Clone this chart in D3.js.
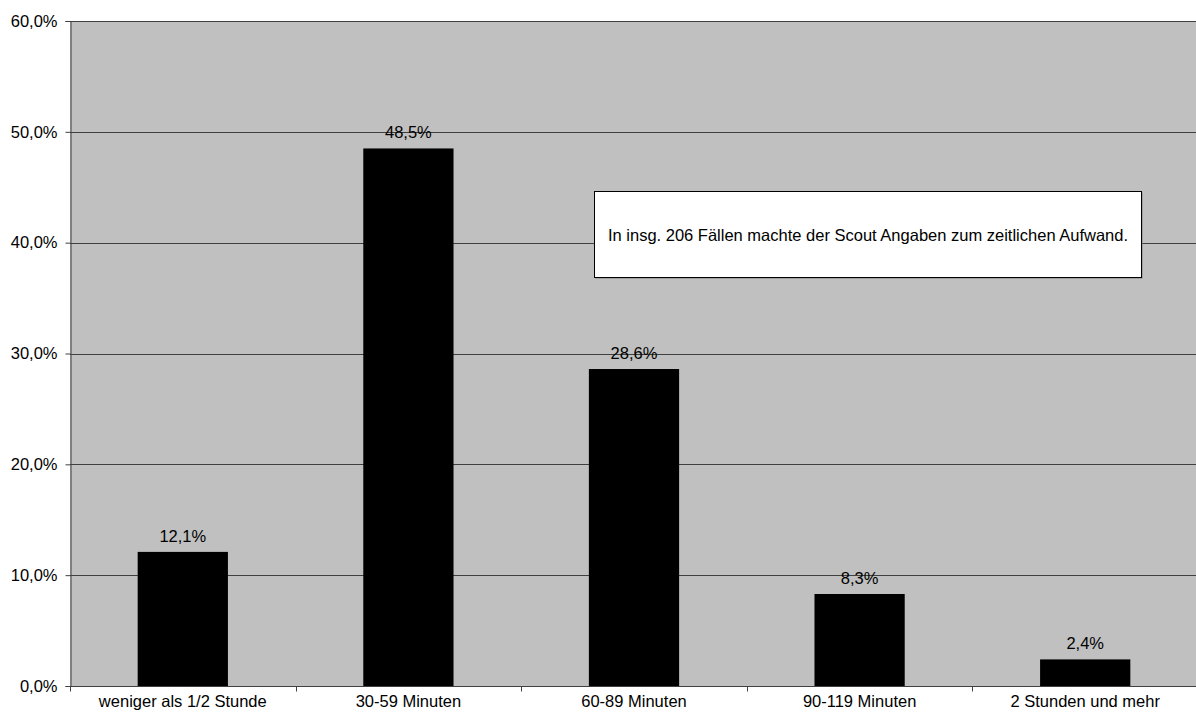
<!DOCTYPE html>
<html><head><meta charset="utf-8">
<script src="https://cdn.jsdelivr.net/npm/d3@7"></script>
<style>html,body{margin:0;padding:0;background:#fff;}svg{display:block;font-family:"Liberation Sans",Arial,sans-serif;}</style>
</head><body>
<svg id="c" width="1196" height="718"></svg>
<script>
const categories = ["weniger als 1/2 Stunde","30-59 Minuten","60-89 Minuten","90-119 Minuten","2 Stunden und mehr"];
const values = [12.1, 48.5, 28.6, 8.3, 2.4];
const yTicks = [0,10,20,30,40,50,60];
const note = "In insg. 206 Fällen machte der Scout Angaben zum zeitlichen Aufwand.";

const FS = 16.5;
const svg = d3.select("#c");
const L = 70, R = 1198, T = 21, B = 686;
const fmt = v => d3.format(".1f")(v).replace(".", ",") + "%";

const x = d3.scaleBand().domain(categories).range([L, R]).paddingInner(0.6).paddingOuter(0.3);
const xb = d3.scaleBand().domain(categories).range([L, R]);
const y = d3.scaleLinear().domain([0, 60]).range([B, T]);

svg.append("rect").attr("x", L).attr("y", T).attr("width", R - L).attr("height", B - T).attr("fill", "#c0c0c0");

svg.append("g").selectAll("line").data(yTicks.filter(d => d > 0)).join("line")
  .attr("x1", L).attr("x2", R).attr("y1", d => Math.round(y(d)) + 0.5).attr("y2", d => Math.round(y(d)) + 0.5)
  .attr("stroke", "#404040").attr("stroke-width", 1);

// bars
svg.append("g").selectAll("rect").data(values).join("rect")
  .attr("x", (d, i) => x(categories[i]))
  .attr("width", x.bandwidth())
  .attr("y", d => y(d))
  .attr("height", d => B - y(d))
  .attr("fill", "#000");

svg.append("g").selectAll("text").data(values).join("text")
  .attr("x", (d, i) => x(categories[i]) + x.bandwidth() / 2)
  .attr("y", d => y(d) - 10)
  .attr("text-anchor", "middle").attr("font-size", FS).attr("fill", "#000")
  .text(fmt);

// y axis
const yAxis = d3.axisLeft(y).tickValues(yTicks).tickSize(5).tickPadding(8).tickFormat(fmt);
const gy = svg.append("g").attr("transform", `translate(${L + 0.5},0)`).call(yAxis);
gy.select(".domain").attr("stroke", "#404040");
gy.selectAll(".tick line").attr("stroke", "#404040");
gy.selectAll(".tick text").attr("font-size", FS).attr("fill", "#000").attr("font-family", "Liberation Sans, Arial, sans-serif");

// x axis
const gx = svg.append("g").attr("transform", `translate(0,${B + 0.5})`);
gx.append("line").attr("x1", L).attr("x2", R).attr("stroke", "#404040");
gx.selectAll("line.t").data(categories).join("line").attr("class", "t")
  .attr("x1", d => Math.round(xb(d)) + 0.5).attr("x2", d => Math.round(xb(d)) + 0.5)
  .attr("y1", 0).attr("y2", 5).attr("stroke", "#404040");
gx.selectAll("text").data(categories).join("text")
  .attr("x", d => xb(d) + xb.bandwidth() / 2).attr("y", 20)
  .attr("text-anchor", "middle").attr("font-size", FS).attr("fill", "#000")
  .text(d => d);

// annotation box
const bx = 594.5, by = 191.5, bw = 547, bh = 86;
svg.append("rect").attr("x", bx + 1).attr("y", by + 1).attr("width", bw).attr("height", bh).attr("fill", "#808080");
svg.append("rect").attr("x", bx).attr("y", by).attr("width", bw).attr("height", bh).attr("fill", "#fff").attr("stroke", "#000").attr("stroke-width", 1);
svg.append("text").attr("x", bx + bw / 2).attr("y", by + bh / 2 + 6).attr("text-anchor", "middle")
  .attr("font-size", FS).attr("fill", "#000").text(note);
</script>
</body></html>
